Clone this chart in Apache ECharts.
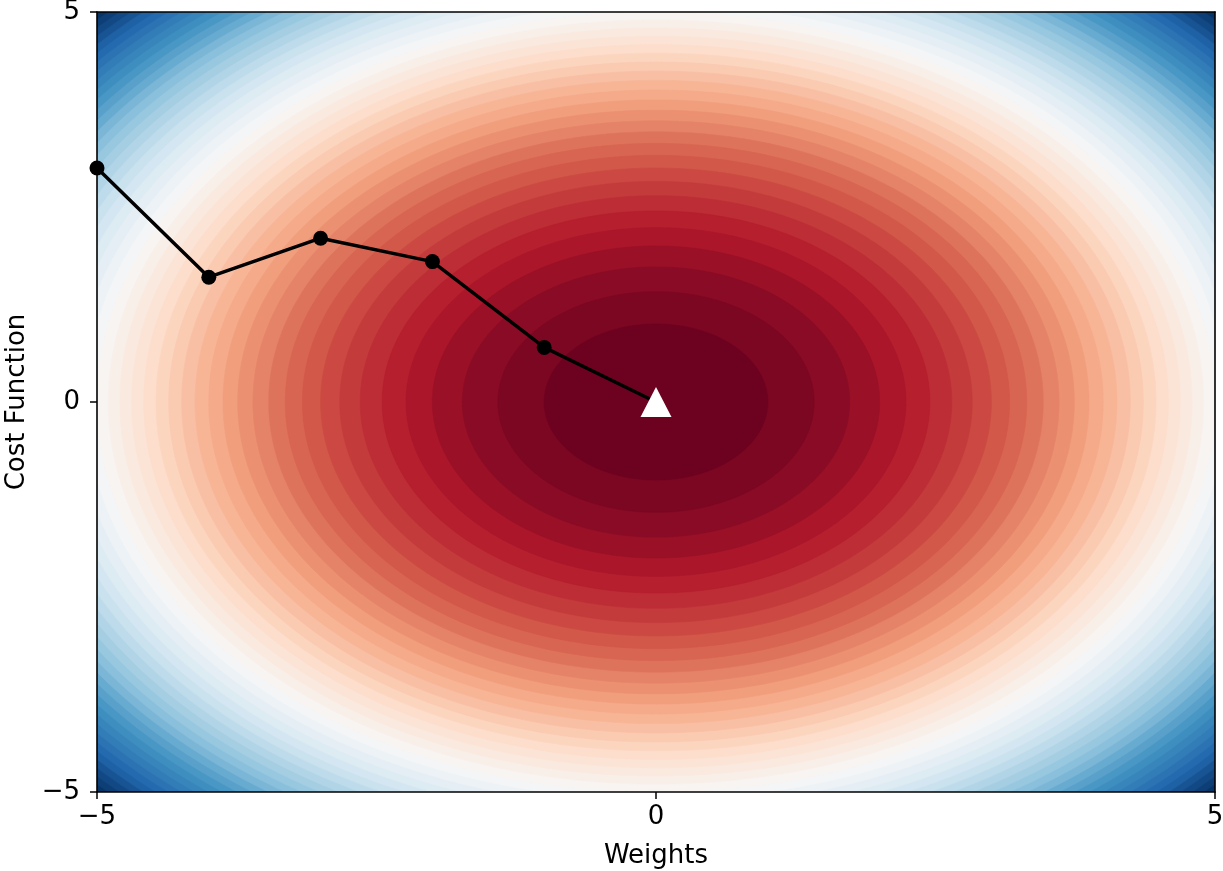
<!DOCTYPE html>
<html>
<head>
<meta charset="utf-8">
<script src="https://cdn.jsdelivr.net/npm/echarts@6/dist/echarts.min.js"></script>
<style>
  html, body { margin: 0; padding: 0; background: #fff; }
  #chart { width: 1223px; height: 871px; }
</style>
</head>
<body>
<div id="chart"></div>
<script>
// Contour levels of the cost surface J(w, b) = w^2 + b^2
const levels = [0, 1, 2, 3, 4, 5, 6, 7, 8, 9, 10, 11, 12, 13, 14, 15, 16, 17, 18, 19, 20,
  21, 22, 23, 24, 25, 26, 27, 28, 29, 30, 31, 32, 33, 34, 35, 36, 37, 38, 39, 40,
  41, 42, 43, 44, 45, 46, 47, 48, 49, 50];

// Gradient-descent path
const pathWeights = [-5, -4, -3, -2, -1, 0];
const pathCost = [3.0, 1.6, 2.1, 1.8, 0.7, 0.0];

// Minimum of the surface
const minimum = [0, 0];

// RdBu colour map anchors (red -> white -> blue)
const rdbu = [
  [0.40392157, 0.0, 0.12156863],
  [0.69803922, 0.09411765, 0.16862745],
  [0.83921569, 0.37647059, 0.30196078],
  [0.95686275, 0.64705882, 0.50980392],
  [0.99215686, 0.85882353, 0.78039216],
  [0.96862745, 0.96862745, 0.96862745],
  [0.81960784, 0.89803922, 0.94117647],
  [0.57254902, 0.77254902, 0.87058824],
  [0.2627451, 0.57647059, 0.76470588],
  [0.12941176, 0.4, 0.6745098],
  [0.01960784, 0.18823529, 0.38039216]
];

function cmap(t) {
  // 256-entry lookup like a sampled colormap
  let k = Math.floor(t * 256);
  k = Math.max(0, Math.min(255, k));
  const x = k / 255 * (rdbu.length - 1);
  const i = Math.min(Math.floor(x), rdbu.length - 2);
  const f = x - i;
  const c = [0, 1, 2].map(j => Math.round((rdbu[i][j] + (rdbu[i + 1][j] - rdbu[i][j]) * f) * 255));
  return 'rgb(' + c.join(',') + ')';
}

const vmin = levels[0];
const vmax = levels[levels.length - 1];

// Each band [levels[i], levels[i+1]] painted as a filled disk of its outer level,
// largest first so smaller disks sit on top.
const bands = [];
for (let i = levels.length - 2; i >= 0; i--) {
  const mid = 0.5 * (levels[i] + levels[i + 1]);
  bands.push({ value: [levels[i + 1], mid], color: cmap((mid - vmin) / (vmax - vmin)) });
}

const chart = echarts.init(document.getElementById('chart'), null, { renderer: 'canvas' });

const FONT = 'DejaVu Sans';
const minusFmt = v => String(v).replace('-', '\u2212');

const axisCommon = {
  type: 'value',
  min: -5,
  max: 5,
  interval: 5,
  z: 10,
  splitLine: { show: false },
  axisLine: { show: true, onZero: false, lineStyle: { color: '#000', width: 1.6 } }
};

chart.setOption({
  animation: false,
  backgroundColor: '#fff',
  grid: { left: 97, right: 8, top: 12, bottom: 79, containLabel: false, outerBoundsMode: 'none' },
  xAxis: [
    Object.assign({}, axisCommon, {
      position: 'bottom',
      name: 'Weights',
      nameLocation: 'middle',
      nameGap: 51,
      nameTextStyle: { fontFamily: FONT, fontSize: 26, color: '#000' },
      axisTick: { show: true, inside: false, length: 7, lineStyle: { color: '#000', width: 1.5 } },
      axisLabel: { show: true, margin: 12, fontFamily: FONT, fontSize: 26, color: '#000', formatter: minusFmt }
    }),
    Object.assign({}, axisCommon, {
      position: 'top',
      axisTick: { show: false },
      axisLabel: { show: false }
    })
  ],
  yAxis: [
    Object.assign({}, axisCommon, {
      position: 'left',
      name: 'Cost Function',
      nameLocation: 'middle',
      nameGap: 67,
      nameRotate: 90,
      nameTextStyle: { fontFamily: FONT, fontSize: 26, color: '#000' },
      axisTick: { show: true, inside: false, length: 7, lineStyle: { color: '#000', width: 1.5 } },
      axisLabel: { show: true, margin: 17, fontFamily: FONT, fontSize: 26, color: '#000', formatter: minusFmt }
    }),
    Object.assign({}, axisCommon, {
      position: 'right',
      axisTick: { show: false },
      axisLabel: { show: false }
    })
  ],
  series: [
    {
      type: 'custom',
      name: 'contours',
      xAxisIndex: 0,
      yAxisIndex: 0,
      clip: true,
      silent: true,
      data: bands.map(b => b.value),
      renderItem: function (params, api) {
        const r = Math.sqrt(api.value(0));
        const color = bands[params.dataIndex].color;
        const pts = [];
        const n = 360;
        for (let k = 0; k < n; k++) {
          const t = 2 * Math.PI * k / n;
          pts.push(api.coord([r * Math.cos(t), r * Math.sin(t)]));
        }
        return {
          type: 'polygon',
          shape: { points: pts },
          style: { fill: color, stroke: color, lineWidth: 0.6 }
        };
      },
      z: 1
    },
    {
      type: 'line',
      name: 'path',
      xAxisIndex: 0,
      yAxisIndex: 0,
      clip: true,
      data: pathWeights.map((w, i) => (i === pathWeights.length - 1)
        ? { value: [w, pathCost[i]], symbol: 'none' }
        : [w, pathCost[i]]),
      lineStyle: { color: '#000', width: 3.5 },
      itemStyle: { color: '#000' },
      symbol: 'circle',
      symbolSize: 15,
      showAllSymbol: true,
      z: 3
    },
    {
      type: 'scatter',
      name: 'minimum',
      xAxisIndex: 0,
      yAxisIndex: 0,
      data: [minimum],
      symbol: 'triangle',
      symbolSize: [31, 30],
      itemStyle: { color: '#fff', opacity: 1 },
      z: 4
    }
  ]
});
</script>
</body>
</html>
